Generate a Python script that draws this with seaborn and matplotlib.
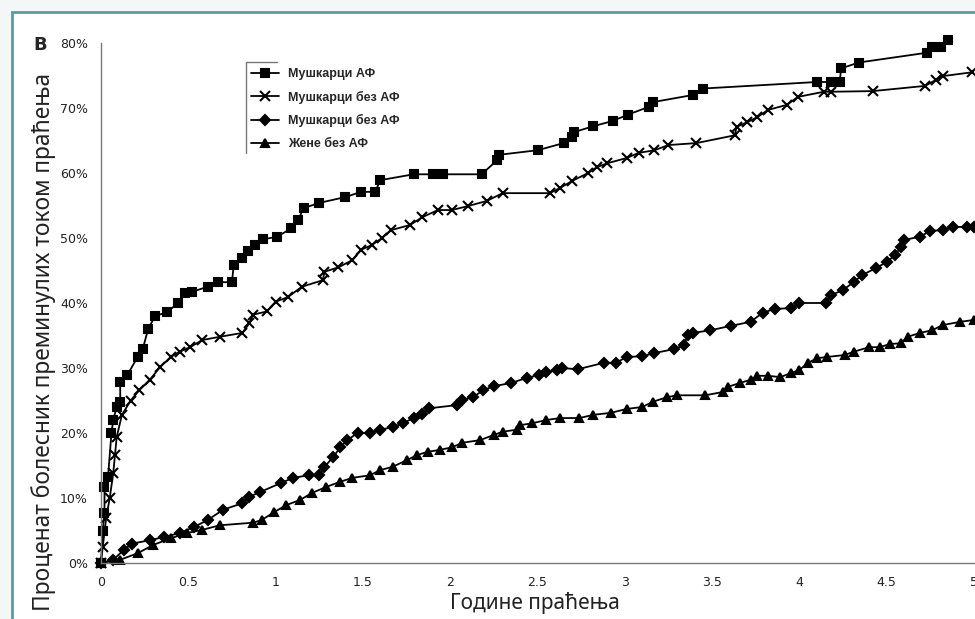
import seaborn as sns
from matplotlib import pyplot as plt
from matplotlib.lines import Line2D
from matplotlib.patches import Rectangle
from matplotlib.ticker import FuncFormatter

# Мушкарци АФ (squares)
men_af_x = [0, 0.01, 0.02, 0.02, 0.04, 0.06, 0.07, 0.09, 0.11, 0.11, 0.15, 0.21, 0.24, 0.27,
            0.31, 0.38, 0.44, 0.48, 0.52, 0.61, 0.67, 0.75, 0.76, 0.81, 0.84, 0.88, 0.93,
            1.01, 1.09, 1.13, 1.16, 1.25, 1.40, 1.49, 1.57, 1.60, 1.79, 1.90, 1.96, 2.18,
            2.27, 2.28, 2.50, 2.65, 2.70, 2.71, 2.82, 2.93, 3.02, 3.14, 3.16, 3.39, 3.45,
            4.10, 4.18, 4.23, 4.24, 4.34, 4.73, 4.76, 4.81, 4.85]
men_af_y = [0, 5, 7.7, 11.7, 13.2, 20, 22, 24, 24.8, 27.8, 28.9, 31.7, 33, 36,
            38, 38.6, 40, 41.5, 41.7, 42.5, 43.2, 43.2, 45.8, 46.9, 48, 49, 49.8,
            50.2, 51.5, 52.8, 54.6, 55.4, 56.3, 57.1, 57.1, 58.9, 59.8, 59.8, 59.8, 59.8,
            62, 62.8, 63.5, 64.6, 65.5, 66.3, 67.2, 68, 69, 70.2, 70.9, 72, 73,
            74, 74, 74, 76.1, 77, 78.5, 79.4, 79.4, 80.4]

# Мушкарци без АФ (crosses)
men_x = [0, 0.01, 0.03, 0.05, 0.07, 0.08, 0.09, 0.12, 0.17, 0.22, 0.28, 0.34, 0.40, 0.45,
         0.51, 0.58, 0.68, 0.81, 0.85, 0.87, 0.95, 1.00, 1.07, 1.15, 1.27, 1.28, 1.36,
         1.44, 1.49, 1.55, 1.61, 1.66, 1.77, 1.84, 1.93, 2.01, 2.10, 2.21, 2.30, 2.57,
         2.63, 2.70, 2.79, 2.84, 2.90, 3.01, 3.08, 3.17, 3.25, 3.41, 3.63, 3.64, 3.70,
         3.76, 3.82, 3.93, 3.99, 4.14, 4.18, 4.42, 4.72, 4.78, 4.82, 4.99]
men_y = [0, 2.5, 7, 10, 13.8, 16.6, 19.4, 22.8, 25, 26.6, 28.2, 30.2, 31.7, 32.5,
         33.2, 34.3, 34.8, 35.4, 36.9, 38.2, 38.7, 40.2, 40.9, 42.5, 43.5, 44.8, 45.5,
         46.6, 48.2, 48.9, 50, 51.2, 52, 53.2, 54.3, 54.3, 54.9, 55.7, 56.9, 56.9,
         57.7, 58.8, 60, 60.9, 61.5, 62.3, 63.1, 63.5, 64.3, 64.6, 65.8, 67.1, 67.8,
         68.6, 69.7, 70.5, 71.7, 72.5, 72.5, 72.6, 73.4, 74.3, 74.9, 75.5]

# Мушкарци без АФ (diamonds)
men2_x = [0, 0.07, 0.13, 0.18, 0.28, 0.36, 0.45, 0.53, 0.61, 0.70, 0.81, 0.85, 0.91, 1.03,
          1.10, 1.19, 1.25, 1.28, 1.33, 1.37, 1.41, 1.47, 1.54, 1.60, 1.67, 1.73, 1.79,
          1.84, 1.88, 2.04, 2.07, 2.13, 2.19, 2.25, 2.35, 2.44, 2.51, 2.55, 2.61, 2.64,
          2.73, 2.88, 2.95, 3.01, 3.10, 3.17, 3.28, 3.34, 3.36, 3.39, 3.49, 3.61, 3.72,
          3.79, 3.86, 3.95, 4.00, 4.15, 4.18, 4.25, 4.31, 4.36, 4.44, 4.50, 4.55, 4.58,
          4.60, 4.69, 4.75, 4.82, 4.88, 4.96, 5.0]
men2_y = [0, 0.5, 2, 3, 3.5, 4, 4.6, 5.5, 6.6, 8.2, 9.2, 10.2, 10.9, 12.3,
          13.1, 13.5, 13.5, 14.8, 16.3, 17.8, 18.9, 20, 20, 20.5, 20.9, 21.5, 22.3,
          23, 23.8, 24.3, 25.1, 25.5, 26.6, 27.2, 27.7, 28.5, 28.9, 29.4, 29.7, 30,
          29.8, 30.8, 30.8, 31.7, 31.8, 32.3, 32.9, 33.5, 35.1, 35.4, 35.8, 36.5, 37.1,
          38.5, 39.1, 39.2, 40, 40, 41.2, 42, 43.2, 44.3, 45.4, 46.3, 47.4, 48.6,
          49.7, 50.2, 51.1, 51.2, 51.7, 51.7, 51.7]

# Жене без АФ (triangles)
women_x = [0, 0.11, 0.21, 0.30, 0.40, 0.49, 0.58, 0.68, 0.87, 0.92, 0.99, 1.06, 1.14,
           1.21, 1.29, 1.37, 1.44, 1.54, 1.60, 1.67, 1.75, 1.81, 1.87, 1.94, 2.01, 2.07,
           2.17, 2.25, 2.30, 2.38, 2.40, 2.47, 2.55, 2.63, 2.74, 2.82, 2.92, 3.01, 3.10,
           3.16, 3.24, 3.30, 3.46, 3.56, 3.59, 3.66, 3.72, 3.76, 3.82, 3.89, 3.95, 4.00,
           4.05, 4.10, 4.16, 4.26, 4.31, 4.40, 4.46, 4.52, 4.58, 4.62, 4.69, 4.76, 4.82,
           4.92, 5.0]
women_y = [0, 0.5, 1.5, 2.8, 3.8, 4.6, 5.1, 5.8, 6.2, 6.6, 7.8, 8.9, 9.7,
           10.8, 11.7, 12.5, 13.1, 13.5, 14.3, 14.8, 15.8, 16.6, 17.1, 17.4, 17.8, 18.5,
           18.9, 19.7, 20.2, 20.5, 21.2, 21.5, 22, 22.3, 22.3, 22.8, 23.1, 23.7, 24,
           24.8, 25.5, 25.8, 25.8, 26.3, 27.1, 27.7, 28.2, 28.8, 28.8, 28.6, 29.2, 29.7,
           30.8, 31.5, 31.7, 32, 32.5, 33.2, 33.2, 33.7, 33.8, 34.8, 35.4, 35.8, 36.6,
           37.1, 37.4]

x_ticks = [0, 0.5, 1, 1.5, 2, 2.5, 3, 3.5, 4, 4.5, 5]
y_ticks = [0, 10, 20, 30, 40, 50, 60, 70, 80]

sns.set_style("white")
plt.rcParams['font.family'] = ['Noto Sans', 'DejaVu Sans']

fig = plt.figure(figsize=(9.75, 6.19), dpi=100)
fig.patch.set_facecolor('#f4f7f7')
fig.patches.append(Rectangle((12 / 975, -0.05), 1.1, 1 - 12 / 619 + 0.05,
                             transform=fig.transFigure, facecolor='white',
                             edgecolor='#5c9c9c', linewidth=2, zorder=-5))

ax = fig.add_axes([101 / 975, 1 - 563 / 619, (974 - 101) / 975, (563 - 43) / 619])
ax.set_facecolor('none')

series = [
    (men_af_x, men_af_y, 'Мушкарци АФ', 's', 6),
    (men_x, men_y, 'Мушкарци без АФ', 'x', 7),
    (men2_x, men2_y, 'Мушкарци без АФ', 'D', 5),
    (women_x, women_y, 'Жене без АФ', '^', 6),
]
for xs, ys, lab, mk, ms in series:
    sns.lineplot(x=xs, y=ys, ax=ax, label=lab, color='black', marker=mk,
                 markersize=ms, markeredgecolor='black', markeredgewidth=1.5,
                 linewidth=1.3, sort=False, estimator=None, clip_on=False)

ax.set_xlim(0, 5)
ax.set_ylim(0, 80)
ax.set_xticks(x_ticks)
ax.set_xticklabels([f'{t:g}' for t in x_ticks])
ax.set_yticks(y_ticks)
ax.yaxis.set_major_formatter(FuncFormatter(lambda v, p: f'{v:.0f}%'))
for s in ['top', 'right']:
    ax.spines[s].set_visible(False)
for s in ['left', 'bottom']:
    ax.spines[s].set_color('#777777')
    ax.spines[s].set_linewidth(1)
ax.tick_params(direction='inout', length=7, width=1, color='#777777',
               labelsize=9, labelcolor='#222222', pad=6)
for lbl in ax.get_xticklabels() + ax.get_yticklabels():
    lbl.set_family(['Liberation Sans Narrow', 'DejaVu Sans'])

ax.set_xlabel('Године праћења', fontsize=15, color='#222222', labelpad=2)
ax.xaxis.set_label_coords(0.497, -0.055)
ax.set_ylabel('Проценат болесник преминулих током праћења', fontsize=16.4,
              color='#222222')
ax.yaxis.set_label_coords(-0.052, 0.425)

fig.text(40 / 975, 1 - 45 / 619, 'B', fontsize=13, fontweight='bold',
         ha='center', va='center', family='DejaVu Sans')

leg = ax.legend(loc='upper left', bbox_to_anchor=((246 - 101) / 873, 1 - 20 / 520),
                frameon=False, prop={'family': 'Liberation Sans', 'weight': 'bold', 'size': 9},
                handlelength=2.2, labelspacing=0.85, borderaxespad=0)
for t in leg.get_texts():
    t.set_fontweight('bold')
fig.lines.append(Line2D([246 / 975, 246 / 975], [1 - 62 / 619, 1 - 153 / 619],
                        transform=fig.transFigure, color='#777777', linewidth=1))
fig.lines.append(Line2D([246 / 975, 277 / 975], [1 - 62 / 619, 1 - 62 / 619],
                        transform=fig.transFigure, color='#777777', linewidth=1))

fig.savefig('out.png', dpi=100, facecolor=fig.get_facecolor())
